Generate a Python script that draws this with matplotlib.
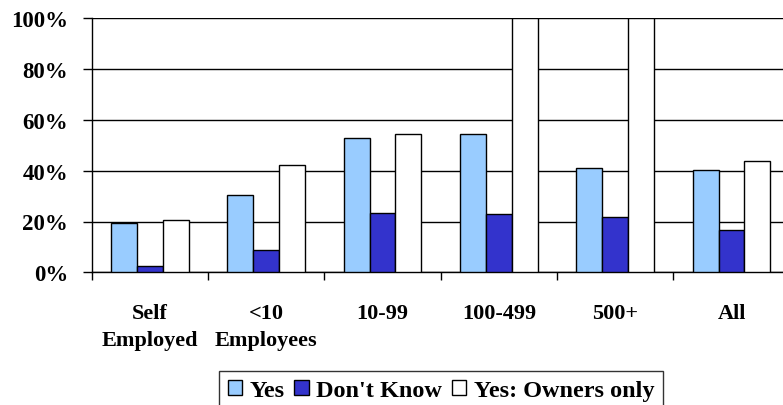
import matplotlib.pyplot as plt
import numpy as np
from matplotlib.ticker import FixedLocator, PercentFormatter

# Data
groups = ["Self\nEmployed", "<10\nEmployees", "10-99", "100-499", "500+", "All"]
yes = [19.3, 30.3, 52.8, 54.3, 41.1, 40.4]
dont_know = [2.6, 8.7, 23.5, 22.8, 21.9, 16.5]
owners_only = [20.5, 42.4, 54.3, 100, 100, 43.9]

series = [("Yes", yes, "#99CCFF"),
          ("Don't Know", dont_know, "#3333CC"),
          ("Yes: Owners only", owners_only, "white")]

plt.rcParams["font.family"] = ["Liberation Serif", "DejaVu Serif"]
plt.rcParams["font.weight"] = "bold"

fig = plt.figure(figsize=(7.83, 4.06), dpi=100)
# the plot area runs past the right edge of the figure
ax = fig.add_axes([91.7 / 783, 132.7 / 406, 698 / 783, 254 / 406])

x = np.arange(len(groups))
w = 1 / 4.5
for i, (name, vals, color) in enumerate(series):
    ax.bar(x + (i - 1) * w, vals, width=w, color=color, edgecolor="black",
           linewidth=1, label=name, zorder=3)

ax.set_xlim(-0.5, len(groups) - 0.5)
ax.set_ylim(0, 100)
ax.set_yticks(np.arange(0, 101, 20))
ax.yaxis.set_major_formatter(PercentFormatter(decimals=0))
ax.grid(axis="y", color="black", linewidth=1, zorder=0)

ax.set_xticks(x)
ax.set_xticklabels(groups, fontsize=16, fontweight="bold", linespacing=1.45)
ax.xaxis.set_minor_locator(FixedLocator(np.arange(-0.5, len(groups), 1)))
ax.tick_params(axis="x", which="major", length=0, pad=22)
ax.tick_params(axis="x", which="minor", length=6, width=1, color="black")
ax.tick_params(axis="y", length=6.5, width=1, pad=10.5, labelsize=16.5)

for s in ["top", "right"]:
    ax.spines[s].set_visible(False)
for s in ["left", "bottom"]:
    ax.spines[s].set_linewidth(1)
    ax.spines[s].set_color("black")

leg = fig.legend(loc="upper center", bbox_to_anchor=(441 / 783, 1 - 372.3 / 406),
                 ncol=3, fontsize=17.5, frameon=True, fancybox=False,
                 edgecolor="black", handlelength=0.6, handleheight=0.6,
                 handletextpad=0.3, columnspacing=0.4, borderpad=0.35,
                 borderaxespad=0)
leg.get_frame().set_linewidth(1)

fig.savefig("out.png", dpi=100)
